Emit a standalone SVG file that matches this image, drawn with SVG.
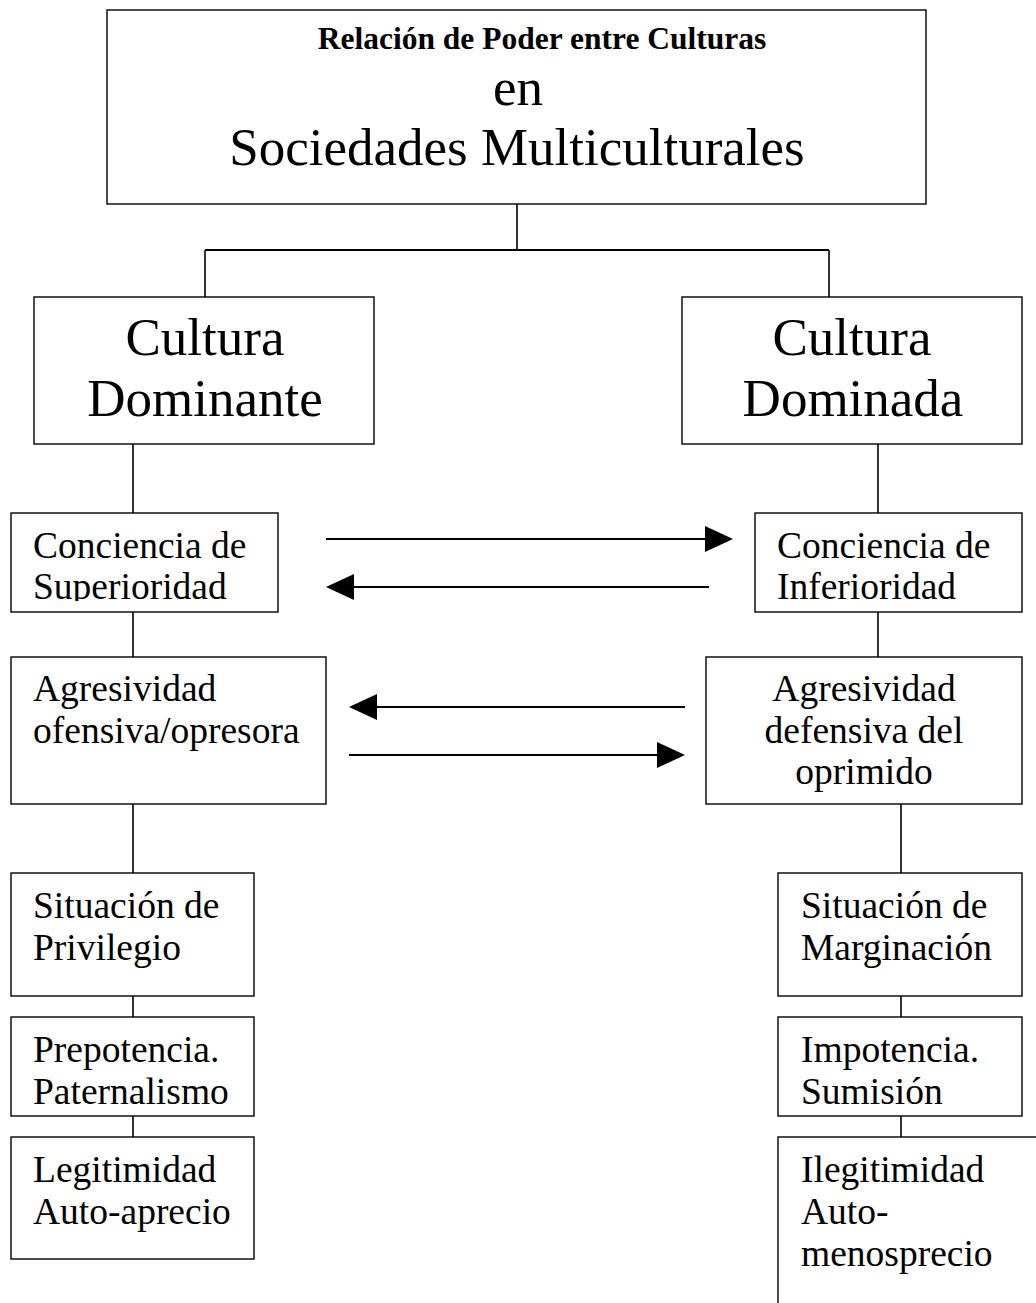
<svg xmlns="http://www.w3.org/2000/svg" width="1036" height="1303" viewBox="0 0 1036 1303">
<style>
.box{fill:#fff;stroke:#000;stroke-width:1.4}
.t{font-family:"Liberation Serif","Times New Roman",serif;fill:#000;font-size:37.5px}
.big{font-size:53px}
.title{font-size:31.5px;font-weight:bold}
.c{text-anchor:middle}
.ln{stroke:#000;stroke-width:1.6;fill:none}
.ln2{stroke:#000;stroke-width:2;fill:none}
.ar{stroke:#000;stroke-width:2.2;fill:none}
.hd{fill:#000}
</style>
<defs>
<clipPath id="clipL"><rect x="11" y="513" width="268" height="88"/></clipPath>
<clipPath id="clipR"><rect x="754" y="513" width="270" height="88"/></clipPath>
</defs>
<rect width="1036" height="1303" fill="#fff"/>
<g id="connectors">
<line class="ln" x1="517" y1="204" x2="517" y2="250"/>
<line class="ln2" x1="205" y1="250" x2="829" y2="250"/>
<line class="ln" x1="205" y1="250" x2="205" y2="297"/>
<line class="ln" x1="829" y1="250" x2="829" y2="297"/>
<line class="ln" x1="133" y1="444" x2="133" y2="513"/>
<line class="ln" x1="878" y1="444" x2="878" y2="513"/>
<line class="ln" x1="133" y1="612" x2="133" y2="657"/>
<line class="ln" x1="878" y1="612" x2="878" y2="657"/>
<line class="ln" x1="133" y1="804" x2="133" y2="873"/>
<line class="ln" x1="901" y1="804" x2="901" y2="873"/>
<line class="ln" x1="133" y1="996" x2="133" y2="1017"/>
<line class="ln" x1="901" y1="996" x2="901" y2="1017"/>
<line class="ln" x1="133" y1="1116" x2="133" y2="1137"/>
<line class="ln" x1="901" y1="1116" x2="901" y2="1137"/>
<line class="ar" x1="326" y1="539" x2="707" y2="539"/>
<polygon class="hd" points="705,526 733,539 705,552"/>
<line class="ar" x1="352" y1="587" x2="709" y2="587"/>
<polygon class="hd" points="326,587 354,574 354,600"/>
<line class="ar" x1="375" y1="707" x2="685" y2="707"/>
<polygon class="hd" points="349,707 377,694 377,720"/>
<line class="ar" x1="349" y1="755" x2="660" y2="755"/>
<polygon class="hd" points="657,742 685,755 657,768"/>
</g>
<g id="top">
<rect class="box" x="107" y="10" width="819" height="194"/>
<text class="t title c" x="542" y="49">Relación de Poder entre Culturas</text>
<text class="t big c" x="518" y="105">en</text>
<text class="t big c" x="517" y="165">Sociedades Multiculturales</text>
</g>
<g id="dominante">
<rect class="box" x="34" y="297" width="340" height="147"/>
<text class="t big c" x="205" y="355">Cultura</text>
<text class="t big c" x="205" y="416">Dominante</text>
</g>
<g id="dominada">
<rect class="box" x="682" y="297" width="340" height="147"/>
<text class="t big c" x="852" y="355">Cultura</text>
<text class="t big c" x="853" y="416">Dominada</text>
</g>
<g id="superioridad">
<rect class="box" x="11" y="513" width="267" height="99"/>
<g clip-path="url(#clipL)">
<text class="t" x="33" y="558">Conciencia de</text>
<text class="t" x="33" y="599">Superioridad</text>
</g>
</g>
<g id="inferioridad">
<rect class="box" x="755" y="513" width="267" height="99"/>
<g clip-path="url(#clipR)">
<text class="t" x="777" y="558">Conciencia de</text>
<text class="t" x="777" y="599">Inferioridad</text>
</g>
</g>
<g id="ofensiva">
<rect class="box" x="11" y="657" width="315" height="147"/>
<text class="t" x="33" y="701">Agresividad</text>
<text class="t" x="33" y="743">ofensiva/opresora</text>
</g>
<g id="defensiva">
<rect class="box" x="706" y="657" width="316" height="147"/>
<text class="t c" x="864" y="701">Agresividad</text>
<text class="t c" x="864" y="743">defensiva del</text>
<text class="t c" x="864" y="784">oprimido</text>
</g>
<g id="privilegio">
<rect class="box" x="11" y="873" width="243" height="123"/>
<text class="t" x="33" y="918">Situación de</text>
<text class="t" x="33" y="960">Privilegio</text>
</g>
<g id="marginacion">
<rect class="box" x="778" y="873" width="244" height="123"/>
<text class="t" x="801" y="918">Situación de</text>
<text class="t" x="801" y="960">Marginación</text>
</g>
<g id="prepotencia">
<rect class="box" x="11" y="1017" width="243" height="99"/>
<text class="t" x="33" y="1062">Prepotencia.</text>
<text class="t" x="33" y="1104">Paternalismo</text>
</g>
<g id="impotencia">
<rect class="box" x="778" y="1017" width="244" height="99"/>
<text class="t" x="801" y="1062">Impotencia.</text>
<text class="t" x="801" y="1104">Sumisión</text>
</g>
<g id="legitimidad">
<rect class="box" x="11" y="1137" width="243" height="122"/>
<text class="t" x="33" y="1182">Legitimidad</text>
<text class="t" x="33" y="1224">Auto-aprecio</text>
</g>
<g id="ilegitimidad">
<rect class="box" x="778" y="1137" width="300" height="200"/>
<text class="t" x="801" y="1182">Ilegitimidad</text>
<text class="t" x="801" y="1224">Auto-</text>
<text class="t" x="801" y="1266">menosprecio</text>
</g>
</svg>
